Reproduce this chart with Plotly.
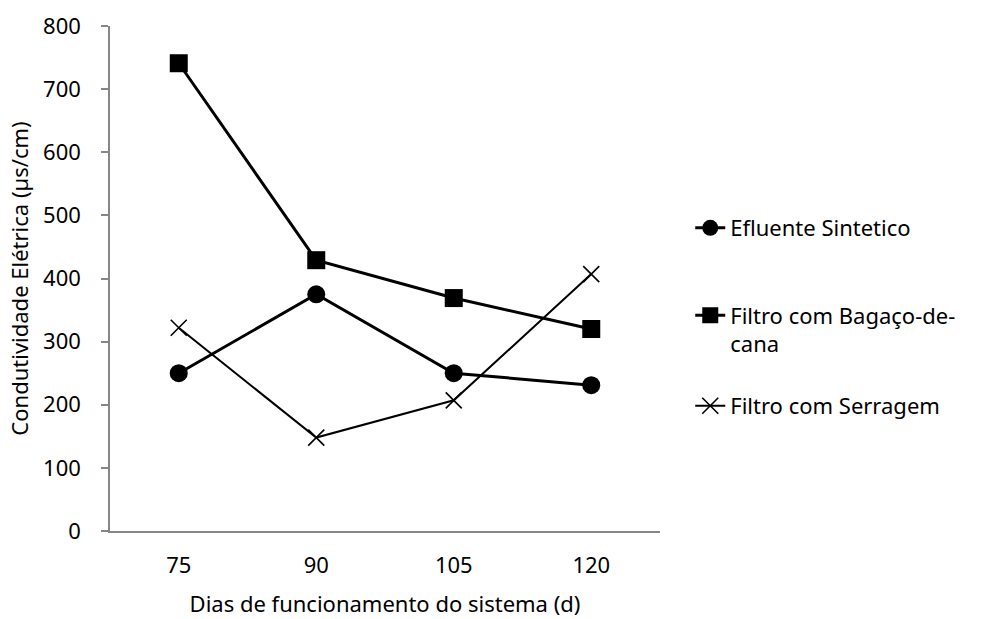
import plotly.graph_objects as go

dias = ["75", "90", "105", "120"]
efluente = [250, 375, 250, 231]
bagaco = [741, 429, 369, 320]
serragem = [322, 148, 207, 407]
y_ticks = [0, 100, 200, 300, 400, 500, 600, 700, 800]

FONT = "Noto Sans"
FS = 22
AXIS_COLOR = "#878787"

fig = go.Figure()
fig.add_trace(go.Scatter(
    x=dias, y=efluente, name="Efluente Sintetico", mode="lines+markers",
    line=dict(color="black", width=3),
    marker=dict(symbol="circle", size=18, color="black"),
    legend="legend"))
fig.add_trace(go.Scatter(
    x=dias, y=bagaco, name="Filtro com Bagaço-de-<br>cana", mode="lines+markers",
    line=dict(color="black", width=3),
    marker=dict(symbol="square", size=18, color="black"),
    legend="legend2"))
fig.add_trace(go.Scatter(
    x=dias, y=serragem, name="Filtro com Serragem", mode="lines+markers",
    line=dict(color="black", width=2),
    marker=dict(symbol="x-thin", size=16, color="black",
                line=dict(color="black", width=1.6)),
    legend="legend3"))

def leg(ycenter_px):
    return dict(x=1.055, y=(531 - ycenter_px) / 505, xanchor="left", yanchor="middle",
                font=dict(family=FONT, size=FS, color="black"),
                valign="top", itemwidth=30, bgcolor="rgba(0,0,0,0)")

fig.update_layout(
    width=1004, height=619,
    margin=dict(l=110, r=344, t=26, b=88, autoexpand=False),
    paper_bgcolor="white", plot_bgcolor="white",
    font=dict(family=FONT, size=FS, color="black"),
    showlegend=True,
    legend=leg(228),
    legend2=leg(330),
    legend3=leg(406),
    xaxis=dict(type="category", range=[-0.5, 3.5], showline=True,
               linecolor=AXIS_COLOR, linewidth=1.5, ticks="",
               showgrid=False, zeroline=False, ticklabelstandoff=14,
               automargin=False,
               title=dict(text="Dias de funcionamento do sistema (d)",
                          font=dict(family=FONT, size=FS), standoff=18),
               tickfont=dict(family=FONT, size=FS)),
    yaxis=dict(range=[0, 800], tickvals=y_ticks, showline=True,
               linecolor=AXIS_COLOR, linewidth=1.5, ticks="outside",
               ticklen=7, tickcolor=AXIS_COLOR, tickwidth=1.5,
               showgrid=False, zeroline=False, ticklabelstandoff=16,
               automargin=False,
               title=dict(text="Condutividade Elétrica (µs/cm)",
                          font=dict(family=FONT, size=FS), standoff=8),
               tickfont=dict(family=FONT, size=FS)),
)

fig.write_html("out.html")
